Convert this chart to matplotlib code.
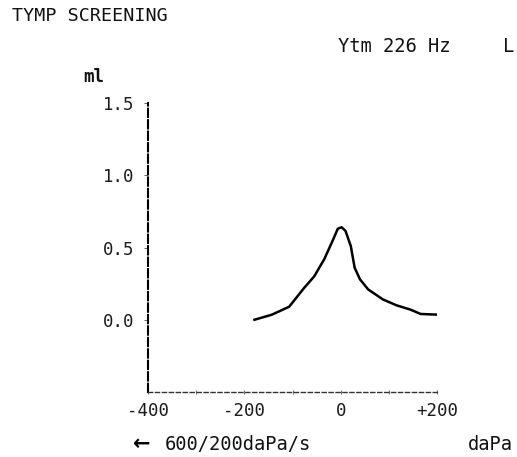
import numpy as np
import matplotlib.pyplot as plt

plt.rcParams['font.family'] = ['DejaVu Sans Mono', 'DejaVu Sans']

# tympanogram
pressure = [-179, -143, -107, -76, -55, -34, -17, -6, 2, 10, 21, 29, 40, 57, 88, 116, 145, 166, 204]
admittance = [0.0, 0.035, 0.09, 0.22, 0.30, 0.42, 0.545, 0.63, 0.64, 0.615, 0.51, 0.36, 0.28, 0.21, 0.14, 0.10, 0.07, 0.04, 0.035]
xticks = [-400, -200, 0, 200]
xlabels = ['-400', '-200', '0', '+200']
xminor = [-300, -100, 100]
yticks = [0.0, 0.5, 1.0, 1.5]
ylabels = ['0.0', '0.5', '1.0', '1.5']

fig = plt.figure(figsize=(5.17, 4.57), dpi=100)
ax = fig.add_axes([0.2863, 0.1422, 0.559, 0.6324])

ax.plot(pressure, admittance, color='black', lw=1.8)
ax.set_xlim(-400, 200)
ax.set_ylim(-0.5, 1.5)

for s in ['top', 'right']:
    ax.spines[s].set_visible(False)
ax.spines['left'].set_linestyle((0, (4, 1.5)))
ax.spines['left'].set_linewidth(1.5)
ax.spines['left'].set_color('black')
ax.spines['bottom'].set_linestyle((0, (3, 2)))
ax.spines['bottom'].set_linewidth(1.0)
ax.spines['bottom'].set_color('#333333')

ax.set_xticks(xticks, xlabels)
ax.set_xticks(xminor, minor=True)
ax.set_yticks(yticks, ylabels)
ax.tick_params(axis='both', which='both', length=3, width=0.7, colors='#666666', labelcolor='#1a1a1a', labelsize=12.5)
ax.tick_params(axis='x', which='both', direction='inout', pad=6)
ax.tick_params(axis='y', pad=7)

txt = dict(color='#111111', fontsize=13.5)
fig.text(12 / 517, 1 - 16 / 457, 'TYMP SCREENING', ha='left', va='center', fontsize=13.2, color='#111111')
fig.text(338 / 517, 1 - 46 / 457, 'Ytm 226 Hz', ha='left', va='center', **txt)
fig.text(503 / 517, 1 - 46 / 457, 'L', ha='left', va='center', **txt)
fig.text(83 / 517, 1 - 77 / 457, 'ml', ha='left', va='center', fontsize=12.5, fontweight='bold', color='#111111')
fig.text(142 / 517, 1 - 444 / 457, '\u2190', ha='center', va='center', fontsize=15, fontweight='bold',
         family=['DejaVu Sans'])
fig.text(165 / 517, 1 - 444 / 457, '600/200daPa/s', ha='left', va='center', **txt)
fig.text(468 / 517, 1 - 444 / 457, 'daPa', ha='left', va='center', **txt)

fig.savefig('out.png', dpi=100)
